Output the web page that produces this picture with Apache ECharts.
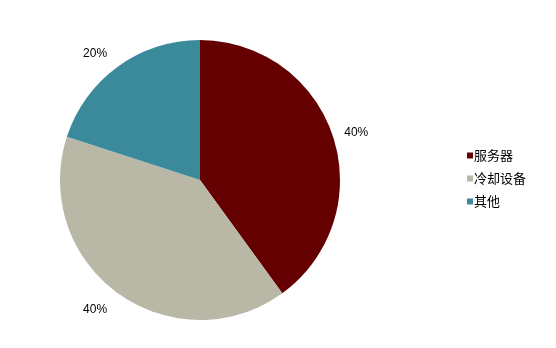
<!DOCTYPE html>
<html><head><meta charset="utf-8">
<script src="https://cdn.jsdelivr.net/npm/echarts@6/dist/echarts.min.js"></script>
<style>html,body{margin:0;padding:0;background:#fff}#c{width:556px;height:348px}</style>
</head><body><div id="c"></div>
<script>
const categories = ['服务器', '冷却设备', '其他'];
const values = [40, 40, 20];
const colors = ['#650000', '#B9B8A7', '#3B8A9C'];

const chart = echarts.init(document.getElementById('c'), null, {renderer: 'canvas'});
chart.setOption({
  animation: false,
  color: colors,
  textStyle: {fontFamily: '"Liberation Sans", "Noto Sans CJK SC", sans-serif'},
  legend: {
    orient: 'vertical',
    left: 467,
    top: 149,
    padding: 0,
    itemWidth: 6,
    itemHeight: 6,
    itemGap: 10,
    icon: 'rect',
    textStyle: {fontSize: 13, lineHeight: 13, color: '#000', fontFamily: '"Noto Sans CJK SC", sans-serif', padding: [0,0,0,-4]},
    data: categories
  },
  series: [{
    type: 'pie',
    center: [200, 180],
    radius: [0, 140],
    startAngle: 90,
    clockwise: true,
    data: categories.map((c, i) => ({name: c, value: values[i], label: i === 0 ? {distanceToLabelLine: -6} : {}})),
    label: {
      show: true,
      position: 'outside',
      formatter: p => p.value + '%',
      fontSize: 12,
      color: '#000',
      distanceToLabelLine: 0,
      offset: [0, 2],
      fontFamily: '"Liberation Sans", sans-serif'
    },
    labelLine: {show: false, length: 18, length2: 0},
    itemStyle: {borderWidth: 0},
    emphasis: {disabled: true}
  }]
});
</script></body></html>
